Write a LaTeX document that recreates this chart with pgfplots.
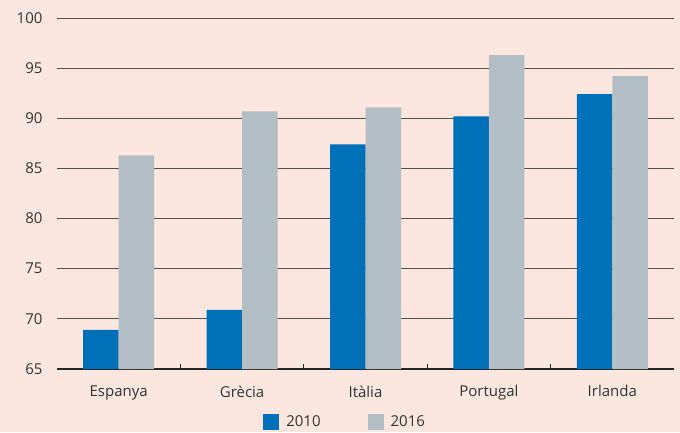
\documentclass[border=0pt]{standalone}
\usepackage{fontspec}
\setmainfont{Open Sans}
\usepackage{pgfplots}
\pgfplotsset{compat=1.18}
\definecolor{bg}{HTML}{FBE6E0}
\definecolor{cblue}{HTML}{0070B8}
\definecolor{cgray}{HTML}{B2BEC3}
\definecolor{gridc}{HTML}{555050}
\definecolor{txt}{HTML}{333333}
\begin{document}
\begin{tikzpicture}[x=1pt,y=1pt]
\fill[bg] (0,0) rectangle (680,432);
\begin{axis}[
  at={(57pt,63pt)}, anchor=south west,
  scale only axis, width=617pt, height=351pt,
  ybar=0pt, bar width=35.5pt,
  xmin=-0.5, xmax=4.5, ymin=65, ymax=100,
  ytick={65,70,...,100},
  xtick={0,1,2,3,4},
  xticklabels={Espanya,Grècia,Itàlia,Portugal,Irlanda},
  minor xtick={0.5,1.5,2.5,3.5},
  axis x line*=bottom, axis y line*=left,
  y axis line style={draw=none},
  x axis line style={draw=black!85, line width=1.2pt, -},
  ymajorgrids, grid style={gridc, line width=1pt},
  major y tick style={draw=none},
  major x tick style={draw=none},
  minor x tick style={draw=black!85, line width=0.8pt},
  minor tick length=5pt,
  tick align=inside,
  /pgf/number format/assume math mode=true,
  tick label style={font=\fontsize{15}{18}\selectfont, text=txt},
  yticklabel style={xshift=-11pt},
  xticklabel style={yshift=-13pt},
  axis background/.style={fill=bg},
  legend style={at={(0.467,-0.150)}, anchor=center, draw=none, fill=none,
    font=\fontsize{15}{18}\selectfont, text=txt, legend columns=2,
    /tikz/every even column/.append style={column sep=45pt}},
  legend image code/.code={\fill[#1] (0pt,-8pt) rectangle (16pt,8pt);\path (21pt,0pt);},
  every axis plot/.append style={draw=none},
]
\addplot[fill=cblue] coordinates {(0,68.9) (1,70.9) (2,87.4) (3,90.2) (4,92.4)};
\addplot[fill=cgray] coordinates {(0,86.3) (1,90.7) (2,91.1) (3,96.3) (4,94.2)};
\legend{2010,2016}
\end{axis}
\pgfresetboundingbox
\path[use as bounding box] (0,0) rectangle (680,432);
\end{tikzpicture}
\end{document}
